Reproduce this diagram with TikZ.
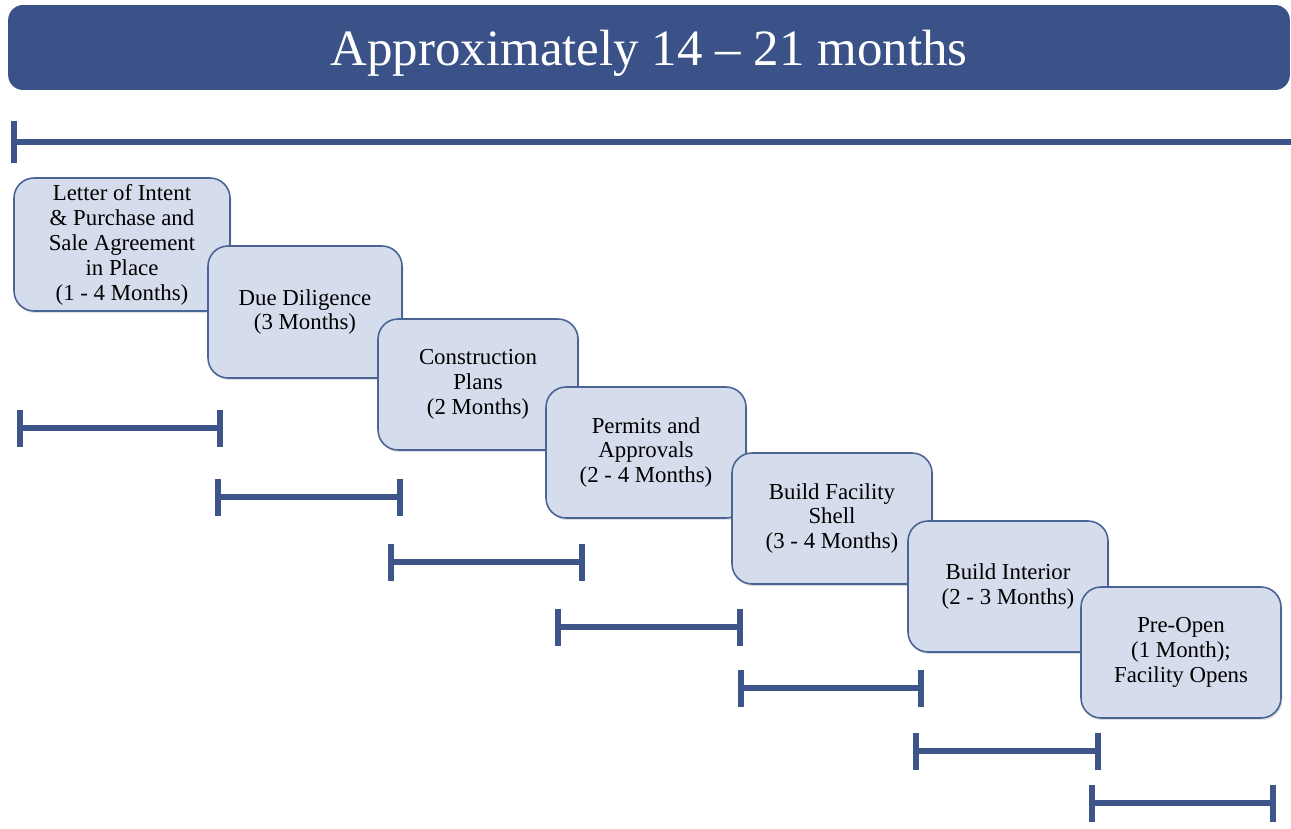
\documentclass[tikz,border=0pt]{standalone}
\usepackage{fontspec}
\setmainfont{Liberation Serif}
\usetikzlibrary{arrows.meta,shadows}
\definecolor{bannerblue}{HTML}{3A5287}
\definecolor{boxfill}{HTML}{D5DCEC}
\definecolor{boxline}{HTML}{4A6496}
\definecolor{barblue}{HTML}{3D5589}
\tikzset{
  phase/.style={draw=boxline, fill=boxfill, line width=0.9pt, rounded corners=0.4cm,
    align=center, inner sep=0pt, font=\fontsize{13}{14.2}\selectfont,
    drop shadow={opacity=0.25, shadow xshift=0.8pt, shadow yshift=-1.2pt}},
  span/.style={barblue, line width=3.2pt, {Bar[width=0.74cm]}-{Bar[width=0.74cm]},
    shorten <=-1.6pt, shorten >=-1.6pt},
}
\begin{document}
\begin{tikzpicture}[x=0.02cm, y=-0.02cm]
        \useasboundingbox (0,0) rectangle (1291,828);

        % banner
        \node[fill=bannerblue, rounded corners=0.3cm, minimum width=25.64cm, minimum height=1.7cm,
          text=white, text depth=0pt, font=\fontsize{29}{32}\selectfont] (title) at (649,47.5) {Approximately 14 -- 21 months};

        % whole span
        \coordinate (tstart) at (14,142);
        \coordinate (tend) at (1295,142);
        \draw[barblue, line width=3.2pt, {Bar[width=0.86cm]}-, shorten <=-1.6pt] (tstart) -- (tend);

        % phases
        \node[phase, minimum width=4.32cm, minimum height=2.66cm] (loi) at (122,244.5) {Letter of Intent\\\& Purchase and\\Sale Agreement\\in Place\\(1 - 4 Months)};
        \node[phase, minimum width=3.88cm, minimum height=2.64cm] (due) at (305,312) {Due Diligence\\(3 Months)};
        \node[phase, minimum width=4cm, minimum height=2.62cm] (plans) at (478,384.5) {Construction\\Plans\\(2 Months)};
        \node[phase, minimum width=4cm, minimum height=2.62cm] (permits) at (646,452.5) {Permits and\\Approvals\\(2 - 4 Months)};
        \node[phase, minimum width=4cm, minimum height=2.62cm] (shell) at (832,518.5) {Build Facility\\Shell\\(3 - 4 Months)};
        \node[phase, minimum width=4cm, minimum height=2.62cm] (interior) at (1008,586.5) {Build Interior\\(2 - 3 Months)};
        \node[phase, minimum width=4cm, minimum height=2.62cm] (preopen) at (1181,652.5) {Pre-Open\\(1 Month);\\Facility Opens};

        % durations
        \foreach \xa/\xb/\y [count=\i] in {20/220/428, 218/400/497, 391/582/562, 558/740/627, 741/921/688, 916/1098/751, 1092/1273/803}
        {
          \coordinate (s\i) at (\xa,\y);
          \coordinate (e\i) at (\xb,\y);
          \draw[span] (s\i) -- (e\i);
        }
\end{tikzpicture}
\end{document}
